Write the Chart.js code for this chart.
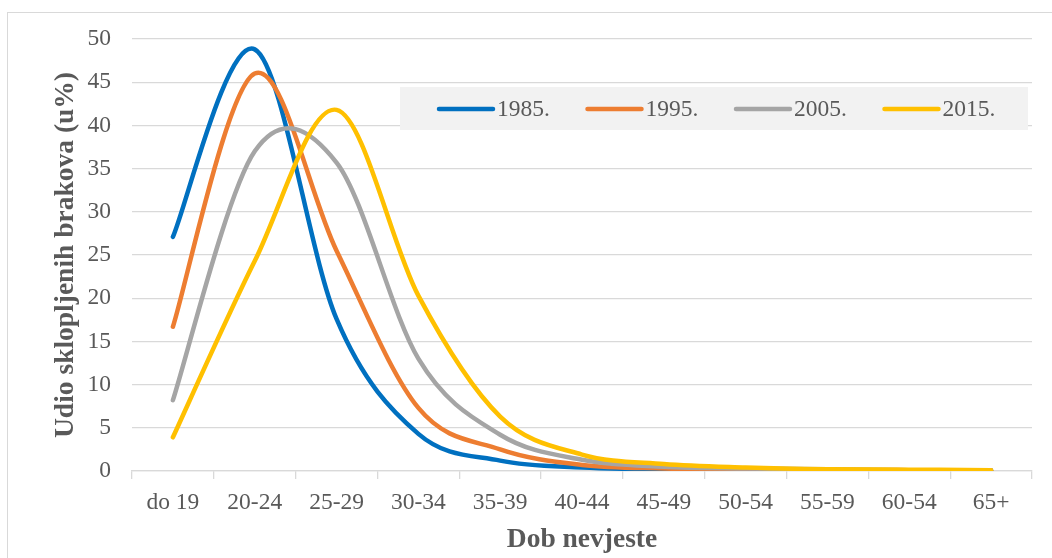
<!DOCTYPE html>
<html>
<head>
<meta charset="utf-8">
<script src="https://cdn.jsdelivr.net/npm/chart.js@4/dist/chart.umd.min.js"></script>
<style>
  html, body { margin: 0; padding: 0; background: #fff; overflow: hidden; }
  #wrap { position: relative; width: 1052px; height: 558px; }
  #frame { position: absolute; left: 7px; top: 12px; width: 1100px; height: 600px;
           border-left: 1px solid #d9d9d9; border-top: 1px solid #d9d9d9; pointer-events: none; }
  canvas { position: absolute; left: 0; top: 0; }
</style>
</head>
<body>
<div id="wrap">
  <div id="frame"></div>
  <canvas id="myChart" width="1052" height="558"></canvas>
</div>
<script>
// age groups of the bride
var ageGroups = ['do 19', '20-24', '25-29', '30-34', '35-39', '40-44', '45-49', '50-54', '55-59', '60-54', '65+'];

// share of marriages (%)
var y1985 = [27.1, 48.8, 17.6, 4.3, 1.2, 0.4, 0.2, 0.1, 0.1, 0.05, 0.05];
var y1995 = [16.7, 46.0, 25.5, 7.3, 2.5, 0.7, 0.3, 0.2, 0.1, 0.1, 0.05];
var y2005 = [8.2, 37.0, 35.7, 13.0, 4.2, 1.3, 0.5, 0.3, 0.2, 0.1, 0.1];
var y2015 = [3.9, 24.3, 41.8, 20.3, 6.3, 1.9, 0.8, 0.4, 0.2, 0.15, 0.1];

var seriesLabels = ['1985.', '1995.', '2005.', '2015.'];
var colors = ['#0070C0', '#ED7D31', '#A5A5A5', '#FFC000'];

var textColor = '#595959';
var gridColor = '#d9d9d9';
Chart.defaults.font.family = "'Liberation Serif', 'Times New Roman', serif";
Chart.defaults.color = textColor;

// excel style smoothing (catmull-rom, 1/6)
var excelSmooth = {
  id: 'excelSmooth',
  beforeDatasetsDraw: function(chart) {
    chart.getSortedVisibleDatasetMetas().forEach(function(meta) {
      var pts = meta.data;
      meta.dataset.updateControlPoints(chart.chartArea);
      for (var i = 0; i < pts.length; i++) {
        var p0 = pts[Math.max(i - 1, 0)];
        var p = pts[i];
        var p1 = pts[Math.min(i + 1, pts.length - 1)];
        p.cp1x = p.x - (p1.x - p0.x) / 6;
        p.cp1y = p.y - (p1.y - p0.y) / 6;
        p.cp2x = p.x + (p1.x - p0.x) / 6;
        p.cp2y = p.y + (p1.y - p0.y) / 6;
      }
      meta.dataset._pointsUpdated = true;
      meta.dataset._path = undefined;
    });
  }
};

// legend box inside the plot, like the excel one
var boxLegend = {
  id: 'boxLegend',
  afterDatasetsDraw: function(chart) {
    var ctx = chart.ctx;
    ctx.save();
    ctx.fillStyle = '#f2f2f2';
    ctx.fillRect(400, 87, 628, 43);
    ctx.font = '23.5px ' + Chart.defaults.font.family;
    ctx.textBaseline = 'middle';
    ctx.textAlign = 'left';
    chart.data.datasets.forEach(function(ds, i) {
      var x = 439 + i * 148.5;
      var y = 109;
      ctx.strokeStyle = ds.borderColor;
      ctx.lineWidth = 4.5;
      ctx.lineCap = 'round';
      ctx.beginPath();
      ctx.moveTo(x, y);
      ctx.lineTo(x + 54, y);
      ctx.stroke();
      ctx.fillStyle = textColor;
      ctx.fillText(ds.label, x + 58, y + 1);
    });
    ctx.restore();
  }
};

var seriesData = [y1985, y1995, y2005, y2015];
var datasets = seriesData.map(function(d, i) {
  return {
    label: seriesLabels[i],
    data: d,
    borderColor: colors[i],
    backgroundColor: colors[i],
    borderWidth: 4.5,
    borderCapStyle: 'round',
    borderJoinStyle: 'round',
    pointRadius: 0,
    tension: 0.4,
    fill: false,
    order: 4 - i
  };
});

var ctx = document.getElementById('myChart');
var myChart = new Chart(ctx, {
  type: 'line',
  data: { labels: ageGroups, datasets: datasets },
  options: {
    responsive: false,
    animation: false,
    layout: { padding: { left: 0, right: 20, top: 39, bottom: 0 } },
    plugins: { legend: { display: false }, tooltip: { enabled: false } },
    scales: {
      x: {
        offset: true,
        afterFit: function(s) { s.height = 87; },
        grid: { offset: true, drawOnChartArea: false, drawTicks: true, tickLength: 8, color: gridColor, lineWidth: 1.3 },
        border: { display: true, color: gridColor, width: 1.3 },
        ticks: { font: { size: 23.5 }, color: textColor, padding: 10, maxRotation: 0, autoSkip: false },
        title: { display: true, text: 'Dob nevjeste', color: textColor,
                 font: { size: 27.5, weight: 'bold' }, padding: { top: 0, bottom: 2 } }
      },
      y: {
        min: 0,
        max: 50,
        afterFit: function(s) { s.width = 132; },
        grid: { drawTicks: false, color: gridColor, lineWidth: 1.3 },
        border: { display: false },
        ticks: { stepSize: 5, font: { size: 23.5 }, color: textColor, padding: 21 },
        title: { display: true, text: 'Udio sklopljenih brakova (u%)', color: textColor,
                 font: { size: 27.5, weight: 'bold' }, padding: { top: 49, bottom: 0 } }
      }
    }
  },
  plugins: [excelSmooth, boxLegend]
});
</script>
</body>
</html>
